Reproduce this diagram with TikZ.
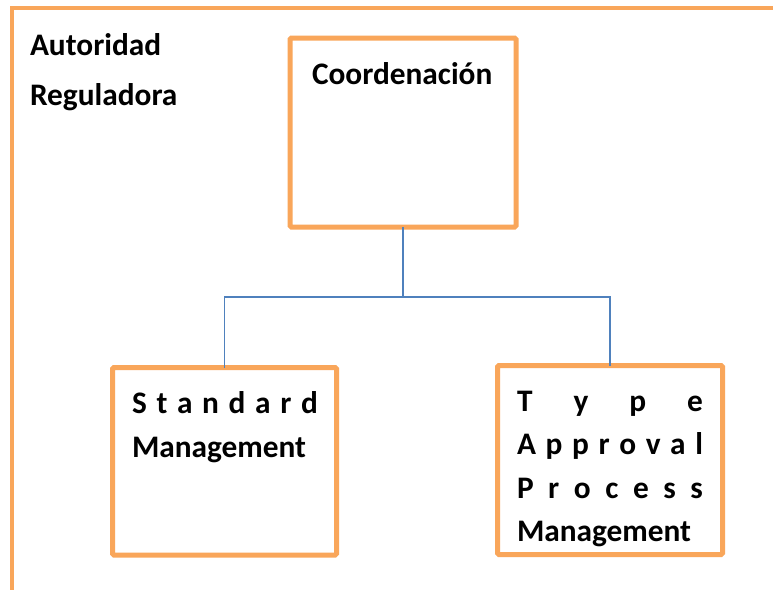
\documentclass[tikz,border=0pt]{standalone}
\usepackage{fontspec}
\setmainfont{Carlito}
\usetikzlibrary{fit}
\definecolor{orangeline}{HTML}{F9A65A}
\definecolor{blueline}{HTML}{4F81BD}
\begin{document}
\begin{tikzpicture}[x=0.75pt,y=-0.75pt,
  box/.style={draw=orangeline,line width=3.75pt,rounded corners=1pt,inner sep=0pt,outer sep=0pt},
  frame/.style={draw=orangeline,line width=3pt},
  conn/.style={draw=blueline,line width=1.2pt},
  txt/.style={inner sep=0pt,outer sep=0pt,anchor=base west,font=\fontsize{23.5}{28}\selectfont\bfseries}]
\useasboundingbox[fill=white] (0,0) rectangle (773,589);
% outer frame
\coordinate (fl) at (12,600);
\coordinate (ftl) at (12,8);
\coordinate (fr) at (790,8);
\draw[frame] (fl) -- (ftl) -- (fr);
% title
\node[txt] (t1) at (30,55) {Autoridad};
\node[txt] (t2) at (30,105) {Reguladora};
% boxes
\node[box,fit={(290,38) (516,227)}] (coord) {};
\node[box,fit={(112.5,367.5) (336.5,555)}] (std) {};
\node[box,fit={(497.5,365.5) (722.5,554.5)}] (type) {};
% texts
\node[txt] (ct) at (312,84) {Coordenación};
\node[txt] (s1) at (132,413) {\makebox[139.5pt][s]{S\hfill t\hfill a\hfill n\hfill d\hfill a\hfill r\hfill d}};
\node[txt] (s2) at (132,457) {Management};
\node[txt] (p1) at (517,411) {\makebox[139.5pt][s]{T\hfill y\hfill p\hfill e}};
\node[txt] (p2) at (517,454) {\makebox[139.5pt][s]{A\hfill p\hfill p\hfill r\hfill o\hfill v\hfill a\hfill l}};
\node[txt] (p3) at (517,498) {\makebox[139.5pt][s]{P\hfill r\hfill o\hfill c\hfill e\hfill s\hfill s}};
\node[txt] (p4) at (517,541) {Management};
% connectors
\coordinate (j) at (403,297);
\draw[conn] (coord.south) -- (j);
\draw[conn] (j) -| (std.north);
\draw[conn] (j) -| (type.north);
\end{tikzpicture}
\end{document}
